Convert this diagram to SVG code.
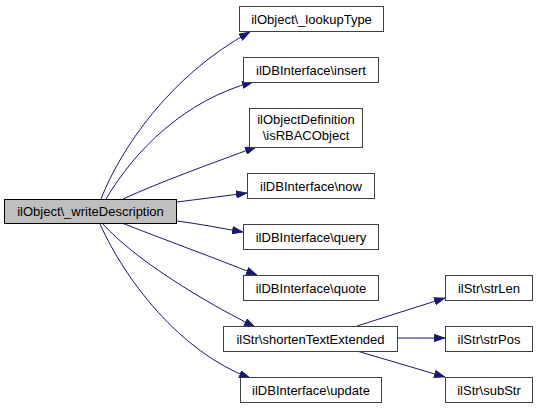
<svg xmlns="http://www.w3.org/2000/svg" width="537" height="408" viewBox="0 0 537 408">
<style>
.n rect{fill:#ffffff;stroke:#404040;stroke-width:1}
.m rect{fill:#bfbfbf;stroke:#000000;stroke-width:1}
text{font-family:"Liberation Sans",Arial,sans-serif;font-size:13px;fill:#000000;text-anchor:middle}
.e path{fill:none;stroke:#191970;stroke-width:1;marker-end:url(#ah)}
</style>
<defs>
<marker id="ah" viewBox="0 0 11 8" refX="11" refY="4" markerWidth="11" markerHeight="8" markerUnits="userSpaceOnUse" orient="auto">
<path d="M0.5,0.5 L10.5,4 L0.5,7.5 z" fill="#191970" stroke="#191970" stroke-width="1"/>
</marker>
</defs>
<rect x="0" y="0" width="537" height="408" fill="#ffffff"/>
<g id="edges" class="e">
<path d="M101,199 C120,150 170,75 250,32"/>
<path d="M106,199 C135,150 185,100 253,82"/>
<path d="M123,199 C160,182 210,164 256,147"/>
<path d="M177,202 C200,199 225,196 247,193"/>
<path d="M177,221 C200,224 220,228 243,232"/>
<path d="M122,223 C165,240 215,258 257,275"/>
<path d="M103,224 C135,260 205,302 255,327"/>
<path d="M100,224 C125,280 180,352 250,378"/>
<path d="M357,326 L445,298"/>
<path d="M397,338 L445,338"/>
<path d="M357,351 L445,377"/>
</g>
<g id="main" class="m"><rect x="4.5" y="199.5" width="172" height="24"/><text x="90.5" y="216">ilObject\_writeDescription</text></g>
<g id="lookupType" class="n"><rect x="239.5" y="6.5" width="144" height="25"/><text x="311.5" y="23.5">ilObject\_lookupType</text></g>
<g id="insert" class="n"><rect x="243.5" y="57.5" width="135" height="25"/><text x="311" y="74.5">ilDBInterface\insert</text></g>
<g id="isRBACObject" class="n"><rect x="249.5" y="108.5" width="113" height="39"/><text x="306" y="124">ilObjectDefinition</text><text x="306" y="139.5">\isRBACObject</text></g>
<g id="now" class="n"><rect x="247.5" y="173.5" width="127" height="25"/><text x="311" y="190.5">ilDBInterface\now</text></g>
<g id="query" class="n"><rect x="243.5" y="224.5" width="135" height="25"/><text x="311" y="241.5">ilDBInterface\query</text></g>
<g id="quote" class="n"><rect x="243.5" y="275.5" width="135" height="25"/><text x="311" y="292.5">ilDBInterface\quote</text></g>
<g id="shortenTextExtended" class="n"><rect x="223.5" y="326.5" width="174" height="25"/><text x="310.5" y="343.5">ilStr\shortenTextExtended</text></g>
<g id="update" class="n"><rect x="240.5" y="377.5" width="141" height="25"/><text x="311" y="394.5">ilDBInterface\update</text></g>
<g id="strLen" class="n"><rect x="445.5" y="275.5" width="87" height="25"/><text x="489" y="292.5">ilStr\strLen</text></g>
<g id="strPos" class="n"><rect x="445.5" y="326.5" width="87" height="25"/><text x="489" y="343.5">ilStr\strPos</text></g>
<g id="subStr" class="n"><rect x="445.5" y="377.5" width="87" height="25"/><text x="489" y="394.5">ilStr\subStr</text></g>
</svg>
